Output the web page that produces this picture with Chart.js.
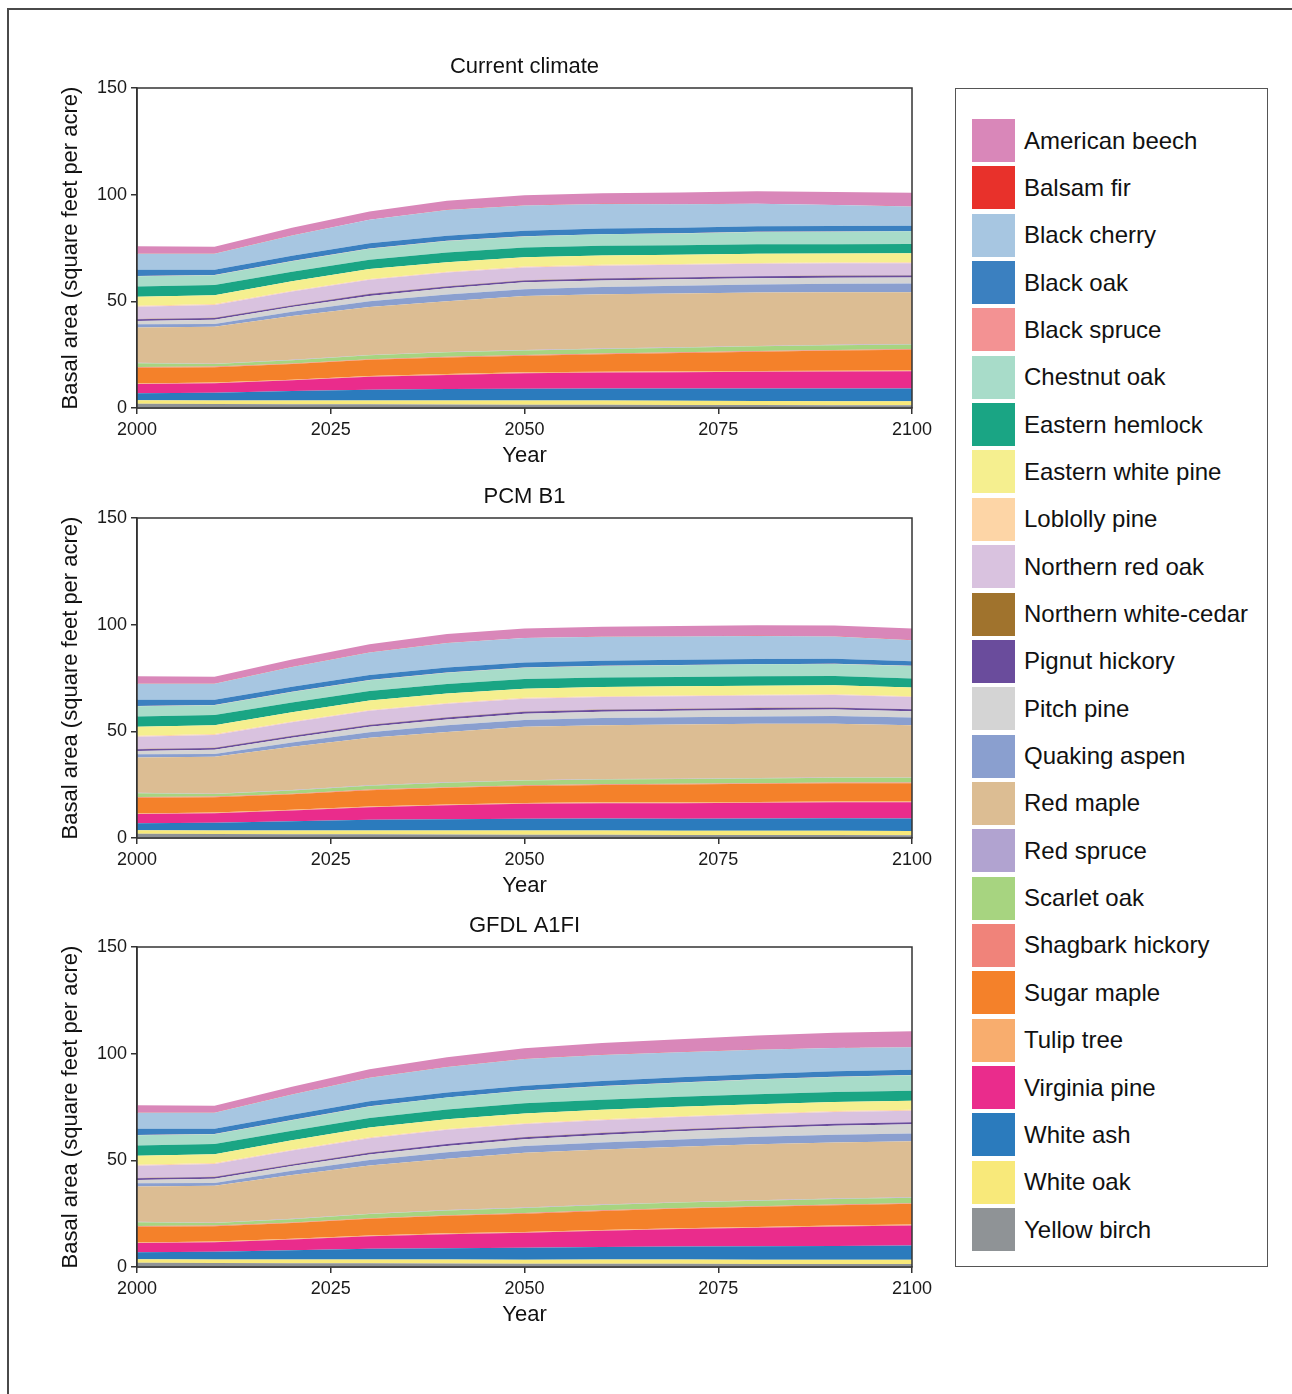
<!DOCTYPE html>
<html>
<head>
<meta charset="utf-8">
<script src="https://cdn.jsdelivr.net/npm/chart.js@4.4.1/dist/chart.umd.min.js"></script>
<style>
  body { margin: 0; background: #fff; width: 1292px; height: 1394px; overflow: hidden; position: relative;
         font-family: "Liberation Sans", Arial, sans-serif; }
  .frame { position: absolute; left: 7px; top: 8px; width: 1300px; height: 1400px;
           border-left: 2px solid #4a4a4a; border-top: 2px solid #4a4a4a; }
  canvas { position: absolute; left: 0; }
  #legend { position: absolute; left: 955px; top: 88px; width: 311px; height: 1177px; border: 1.5px solid #555; }
  .item { position: absolute; left: 16px; height: 44px; display: flex; align-items: center; }
  .swatch { width: 43px; height: 43px; margin-right: 9px; }
  .label { font-size: 24px; color: #111; white-space: nowrap; }
</style>
</head>
<body>
<div class="frame"></div>
<canvas id="chart1" width="940" height="434" style="top:40px"></canvas>
<canvas id="chart2" width="940" height="434" style="top:470px"></canvas>
<canvas id="chart3" width="940" height="434" style="top:899px"></canvas>
<div id="legend"></div>
<script>
const years = [2000, 2010, 2020, 2030, 2040, 2050, 2060, 2070, 2080, 2090, 2100];

// stacking order, bottom layer first
const speciesNames = ['Yellow birch', 'White oak', 'White ash', 'Virginia pine', 'Tulip tree', 'Sugar maple',
  'Shagbark hickory', 'Scarlet oak', 'Red spruce', 'Red maple', 'Quaking aspen', 'Pitch pine',
  'Pignut hickory', 'Northern white-cedar', 'Northern red oak', 'Loblolly pine', 'Eastern white pine',
  'Eastern hemlock', 'Chestnut oak', 'Black spruce', 'Black oak', 'Black cherry', 'Balsam fir', 'American beech'];

const speciesColors = ['#8f9396', '#f8e97a', '#2b7bbd', '#ea2c8c', '#f8ad6e', '#f4812a',
  '#f0837a', '#a7d480', '#b1a3d0', '#dcbd93', '#8a9fcf', '#d4d4d4',
  '#6a4c9c', '#a0732d', '#d9c2df', '#fdd5a6', '#f5ef8f',
  '#1aa584', '#a8dcc9', '#f39293', '#3b80c0', '#a7c6e1', '#e8312b', '#d987b9'];

// basal area (sq ft per acre), one row per species in the order above
const currentClimate = [
  [2.0, 1.9, 1.8, 1.7, 1.6, 1.5, 1.5, 1.4, 1.4, 1.3, 1.3],
  [1.6, 1.6, 1.7, 1.8, 1.9, 2.0, 2.0, 2.0, 1.9, 1.9, 1.9],
  [3.3, 3.7, 4.5, 5.1, 5.4, 5.5, 5.6, 5.7, 5.8, 5.9, 5.9],
  [4.3, 4.4, 5.0, 6.0, 6.6, 7.3, 7.5, 7.7, 7.9, 8.0, 8.1],
  [0.3, 0.3, 0.3, 0.4, 0.4, 0.4, 0.4, 0.4, 0.4, 0.4, 0.4],
  [7.4, 7.2, 7.3, 7.6, 7.8, 7.8, 8.2, 8.6, 9.0, 9.4, 9.7],
  [0.3, 0.3, 0.3, 0.3, 0.3, 0.3, 0.3, 0.3, 0.3, 0.3, 0.3],
  [1.8, 1.2, 1.5, 1.8, 2.1, 2.2, 2.2, 2.2, 2.2, 2.2, 2.2],
  [0.2, 0.2, 0.2, 0.2, 0.2, 0.2, 0.2, 0.2, 0.2, 0.2, 0.2],
  [16.5, 17.3, 20.5, 22.5, 23.7, 25.3, 25.4, 25.2, 25.0, 24.6, 24.2],
  [1.5, 1.3, 2.0, 2.6, 3.2, 3.2, 3.4, 3.6, 3.8, 4.0, 4.2],
  [1.6, 2.0, 2.2, 2.5, 2.9, 3.2, 3.1, 3.0, 2.9, 2.9, 2.8],
  [0.8, 0.8, 0.8, 0.9, 0.9, 0.9, 0.9, 0.9, 0.9, 0.9, 0.9],
  [0.1, 0.1, 0.1, 0.1, 0.1, 0.1, 0.1, 0.1, 0.1, 0.1, 0.1],
  [5.8, 6.0, 6.4, 6.6, 6.4, 6.0, 5.9, 5.8, 5.8, 5.7, 5.7],
  [0.4, 0.4, 0.4, 0.4, 0.4, 0.4, 0.4, 0.4, 0.4, 0.4, 0.4],
  [4.3, 4.2, 4.4, 4.6, 4.4, 4.4, 4.4, 4.3, 4.3, 4.2, 4.2],
  [4.7, 4.7, 4.5, 4.4, 4.6, 4.5, 4.5, 4.5, 4.5, 4.4, 4.4],
  [4.9, 4.6, 4.9, 5.2, 5.4, 5.2, 5.4, 5.5, 5.7, 5.8, 5.9],
  [0.1, 0.1, 0.1, 0.1, 0.1, 0.1, 0.1, 0.1, 0.1, 0.1, 0.1],
  [2.9, 2.5, 2.5, 2.4, 2.4, 2.6, 2.6, 2.6, 2.6, 2.6, 2.5],
  [7.5, 7.5, 9.5, 11.0, 12.0, 11.8, 11.5, 11.0, 10.5, 9.8, 9.1],
  [0.1, 0.1, 0.1, 0.1, 0.1, 0.1, 0.1, 0.1, 0.1, 0.1, 0.1],
  [3.4, 3.2, 3.5, 3.8, 4.3, 4.7, 5.0, 5.4, 5.8, 6.1, 6.3]
];

const pcmB1 = [
  [2.0, 1.9, 1.8, 1.7, 1.6, 1.5, 1.5, 1.4, 1.4, 1.4, 1.3],
  [1.6, 1.6, 1.7, 1.8, 1.9, 2.0, 2.0, 2.0, 2.0, 2.0, 2.0],
  [3.3, 3.7, 4.4, 5.0, 5.3, 5.5, 5.6, 5.6, 5.7, 5.8, 5.8],
  [4.3, 4.4, 5.0, 5.9, 6.5, 7.0, 7.2, 7.3, 7.4, 7.5, 7.6],
  [0.3, 0.3, 0.3, 0.4, 0.4, 0.4, 0.4, 0.4, 0.4, 0.4, 0.4],
  [7.4, 7.2, 7.3, 7.6, 7.8, 8.0, 8.2, 8.4, 8.5, 8.6, 8.6],
  [0.3, 0.3, 0.3, 0.3, 0.3, 0.3, 0.3, 0.3, 0.3, 0.3, 0.3],
  [1.8, 1.2, 1.5, 1.8, 2.1, 2.2, 2.2, 2.2, 2.2, 2.2, 2.2],
  [0.2, 0.2, 0.2, 0.2, 0.2, 0.2, 0.2, 0.2, 0.2, 0.2, 0.2],
  [16.5, 17.3, 20.3, 22.3, 23.6, 25.0, 25.3, 25.4, 25.4, 25.2, 24.5],
  [1.5, 1.3, 2.0, 2.6, 3.1, 3.2, 3.3, 3.4, 3.5, 3.6, 3.6],
  [1.6, 2.0, 2.2, 2.5, 2.8, 3.0, 3.0, 3.0, 3.0, 3.0, 2.9],
  [0.8, 0.8, 0.8, 0.9, 0.9, 0.9, 0.9, 0.9, 0.9, 0.9, 0.9],
  [0.1, 0.1, 0.1, 0.1, 0.1, 0.1, 0.1, 0.1, 0.1, 0.1, 0.1],
  [5.8, 6.0, 6.3, 6.5, 6.3, 6.0, 5.9, 5.8, 5.8, 5.8, 5.7],
  [0.4, 0.4, 0.4, 0.4, 0.4, 0.4, 0.4, 0.4, 0.4, 0.4, 0.4],
  [4.3, 4.2, 4.4, 4.5, 4.4, 4.3, 4.3, 4.3, 4.2, 4.2, 4.1],
  [4.7, 4.7, 4.5, 4.4, 4.5, 4.5, 4.4, 4.4, 4.4, 4.3, 4.2],
  [4.9, 4.6, 4.9, 5.1, 5.3, 5.3, 5.4, 5.5, 5.6, 5.7, 5.8],
  [0.1, 0.1, 0.1, 0.1, 0.1, 0.1, 0.1, 0.1, 0.1, 0.1, 0.1],
  [2.9, 2.5, 2.4, 2.3, 2.3, 2.4, 2.4, 2.4, 2.4, 2.3, 2.2],
  [7.5, 7.5, 9.3, 10.6, 11.5, 11.4, 11.2, 11.0, 10.8, 10.5, 9.8],
  [0.1, 0.1, 0.1, 0.1, 0.1, 0.1, 0.1, 0.1, 0.1, 0.1, 0.1],
  [3.4, 3.2, 3.4, 3.7, 4.1, 4.4, 4.6, 4.8, 4.9, 5.0, 5.4]
];

const gfdlA1fi = [
  [2.0, 1.9, 1.8, 1.7, 1.6, 1.5, 1.5, 1.5, 1.4, 1.4, 1.4],
  [1.6, 1.6, 1.7, 1.8, 1.9, 1.9, 2.0, 2.0, 2.0, 2.0, 2.0],
  [3.3, 3.7, 4.4, 5.0, 5.3, 5.6, 5.9, 6.1, 6.3, 6.5, 6.7],
  [4.3, 4.4, 5.0, 5.9, 6.6, 7.0, 7.6, 8.2, 8.7, 9.1, 9.4],
  [0.3, 0.3, 0.3, 0.4, 0.4, 0.4, 0.4, 0.4, 0.4, 0.4, 0.4],
  [7.4, 7.2, 7.4, 7.8, 8.2, 8.6, 8.9, 9.2, 9.4, 9.6, 9.7],
  [0.3, 0.3, 0.3, 0.3, 0.3, 0.3, 0.3, 0.3, 0.3, 0.3, 0.3],
  [1.8, 1.2, 1.5, 1.9, 2.2, 2.4, 2.5, 2.5, 2.6, 2.6, 2.6],
  [0.2, 0.2, 0.2, 0.2, 0.2, 0.2, 0.2, 0.2, 0.2, 0.2, 0.2],
  [16.5, 17.3, 20.5, 22.6, 24.0, 25.6, 25.8, 26.0, 26.2, 26.3, 26.3],
  [1.5, 1.3, 2.0, 2.6, 3.1, 3.2, 3.3, 3.4, 3.5, 3.6, 3.6],
  [1.6, 2.0, 2.2, 2.5, 2.9, 3.2, 3.5, 3.8, 4.0, 4.2, 4.3],
  [0.8, 0.8, 0.8, 0.9, 0.9, 0.9, 0.9, 0.9, 0.9, 0.9, 0.9],
  [0.1, 0.1, 0.1, 0.1, 0.1, 0.1, 0.1, 0.1, 0.1, 0.1, 0.1],
  [5.8, 6.0, 6.4, 6.7, 6.6, 6.1, 5.9, 5.7, 5.6, 5.5, 5.4],
  [0.4, 0.4, 0.4, 0.4, 0.4, 0.4, 0.4, 0.4, 0.4, 0.4, 0.4],
  [4.3, 4.2, 4.4, 4.6, 4.5, 4.6, 4.5, 4.4, 4.3, 4.2, 4.2],
  [4.7, 4.7, 4.5, 4.5, 4.6, 4.7, 4.7, 4.7, 4.7, 4.7, 4.7],
  [4.9, 4.6, 4.9, 5.3, 5.6, 5.9, 6.3, 6.6, 6.9, 7.1, 7.3],
  [0.1, 0.1, 0.1, 0.1, 0.1, 0.1, 0.1, 0.1, 0.1, 0.1, 0.1],
  [2.9, 2.5, 2.5, 2.4, 2.3, 2.3, 2.4, 2.4, 2.5, 2.5, 2.5],
  [7.5, 7.5, 9.5, 11.0, 12.0, 12.5, 12.2, 11.8, 11.3, 10.9, 10.5],
  [0.1, 0.1, 0.1, 0.1, 0.1, 0.1, 0.1, 0.1, 0.1, 0.1, 0.1],
  [3.4, 3.2, 3.5, 3.9, 4.4, 4.9, 5.5, 6.0, 6.6, 7.1, 7.4]
];

const xTicks = [2000, 2025, 2050, 2075, 2100];
const yTicks = [0, 50, 100, 150];

Chart.defaults.font.family = '"Liberation Sans", Arial, sans-serif';
Chart.defaults.color = '#1a1a1a';

// box around the plotting area
const plotFrame = {
  id: 'plotFrame',
  afterDraw(chart) {
    const { ctx, chartArea: a } = chart;
    ctx.save();
    ctx.strokeStyle = '#333';
    ctx.lineWidth = 1.5;
    ctx.strokeRect(a.left, a.top, a.right - a.left, a.bottom - a.top);
    ctx.restore();
  }
};

const makeChart = (id, title, rows) => {
  const datasets = rows.map((vals, i) => ({
    label: speciesNames[i],
    data: vals.map((v, j) => ({ x: years[j], y: v })),
    backgroundColor: speciesColors[i],
    borderWidth: 0,
    pointRadius: 0,
    fill: i === 0 ? 'origin' : '-1',
    tension: 0
  }));

  return new Chart(document.getElementById(id), {
    type: 'line',
    data: { datasets },
    plugins: [plotFrame],
    options: {
      responsive: false,
      animation: false,
      layout: { padding: { top: 14, left: 50, right: 28, bottom: 2 } },
      plugins: {
        legend: { display: false },
        tooltip: { enabled: false },
        title: {
          display: true, text: title, fullSize: false, color: '#111',
          font: { size: 22, weight: 'normal' }, padding: { top: 0, bottom: 7.6 }
        }
      },
      scales: {
        x: {
          type: 'linear', min: 2000, max: 2100,
          afterBuildTicks: s => { s.ticks = xTicks.map(v => ({ value: v })); },
          afterFit: s => { s.height = 64; },
          grid: { drawOnChartArea: false, tickLength: 6, color: '#333', lineWidth: 1.5 },
          border: { color: '#333', width: 1.5 },
          ticks: { font: { size: 18 }, padding: 5, maxRotation: 0, color: '#1a1a1a', callback: v => String(v) },
          title: { display: true, text: 'Year', font: { size: 22 }, padding: { top: 0, bottom: 3 }, color: '#111' }
        },
        y: {
          stacked: true, min: 0, max: 150,
          afterBuildTicks: s => { s.ticks = yTicks.map(v => ({ value: v })); },
          afterFit: s => { s.width = 87; },
          grid: { drawOnChartArea: false, tickLength: 6, color: '#333', lineWidth: 1.5 },
          border: { color: '#333', width: 1.5 },
          ticks: { font: { size: 18 }, padding: 4, color: '#1a1a1a' },
          title: {
            display: true, text: 'Basal area (square feet per acre)', font: { size: 22 },
            padding: { top: 8, bottom: 0 }, color: '#111'
          }
        }
      }
    }
  });
};

makeChart('chart1', 'Current climate', currentClimate);
makeChart('chart2', 'PCM B1', pcmB1);
makeChart('chart3', 'GFDL A1FI', gfdlA1fi);

// shared legend, top of the stack first
const legendBox = document.getElementById('legend');
speciesNames.slice().reverse().forEach((name, k) => {
  const i = speciesNames.length - 1 - k;
  const item = document.createElement('div');
  item.className = 'item';
  item.style.top = (29.5 + k * 47.35) + 'px';
  item.innerHTML = `<div class="swatch" style="background:${speciesColors[i]}"></div><span class="label">${name}</span>`;
  legendBox.appendChild(item);
});
</script>
</body>
</html>
